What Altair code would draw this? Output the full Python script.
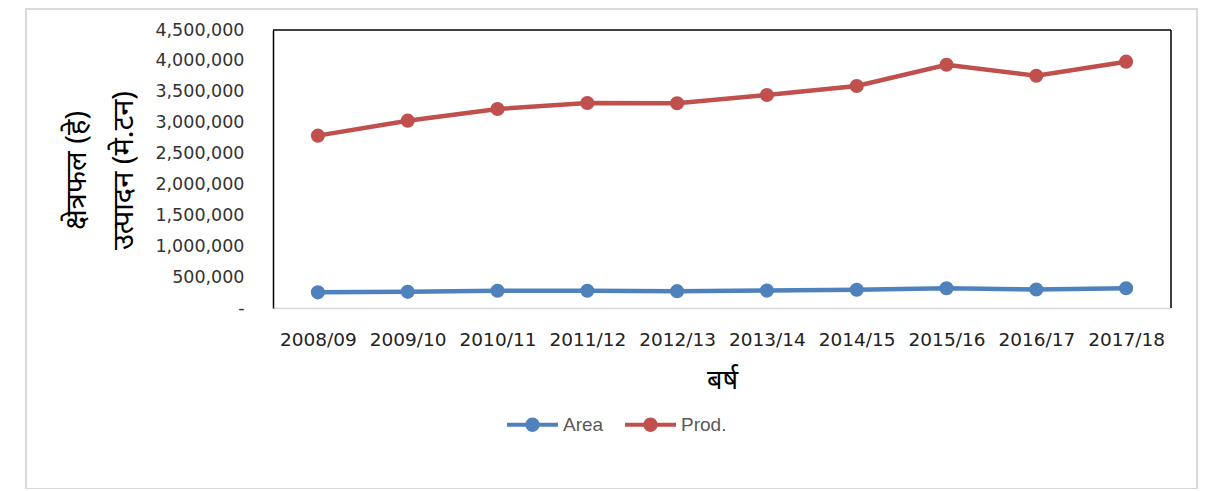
import altair as alt
import pandas as pd

years = ["2008/09", "2009/10", "2010/11", "2011/12", "2012/13",
         "2013/14", "2014/15", "2015/16", "2016/17", "2017/18"]
area = [254000, 262000, 280000, 280000, 272000, 282000, 296000, 319000, 300000, 319000]
prod = [2790000, 3032000, 3221000, 3318000, 3315000, 3448000, 3593000, 3938000, 3760000, 3987000]
series = ["Area", "Prod."]
colors = ["#4f81bd", "#c0504d"]
y_ticks = [0, 500000, 1000000, 1500000, 2000000, 2500000, 3000000, 3500000, 4000000, 4500000]

rows = []
for y, a, p in zip(years, area, prod):
    rows.append({"year": y, "series": "Area", "value": a})
    rows.append({"year": y, "series": "Prod.", "value": p})
df = pd.DataFrame(rows)

W, H = 898, 278

x_enc = alt.X(
    "year:N", sort=years,
    scale=alt.Scale(type="point", padding=0.5),
    axis=alt.Axis(
        title="बर्ष", labelAngle=0, ticks=False, grid=False,
        domainColor="#d9d9d9", domainWidth=1.5,
        labelFont="DejaVu Sans", labelFontSize=18.5, labelColor="#222222",
        labelPadding=22,
        titleFont="Noto Sans", titleFontSize=27, titleFontWeight="normal",
        titleColor="#000000", titleBaseline="middle", titleY=72,
    ),
)
y_enc = alt.Y(
    "value:Q",
    scale=alt.Scale(domain=[0, 4500000], nice=False),
    axis=alt.Axis(
        title=["क्षेत्रफल (हे)", "उत्पादन (मे.टन)"],
        values=y_ticks, ticks=False, grid=False,
        domainColor="#000000", domainWidth=1.5,
        labelExpr="datum.value == 0 ? '-\u00a0\u00a0' : format(datum.value, ',')",
        labelFont="DejaVu Sans", labelFontSize=17.5, labelColor="#333333",
        labelPadding=29,
        titleFont="Noto Sans", titleFontSize=29, titleFontWeight="normal",
        titleColor="#000000", titleAngle=270, titleAlign="center",
        titleBaseline="middle", titleLineHeight=47,
        titleX=-197, titleY=140,
    ),
)
color_scale = alt.Scale(domain=series, range=colors)
legend = alt.Legend(
    title=None, orient="none", direction="horizontal",
    legendX=234, legendY=369, padding=0,
    symbolType="M-1,-0.08H1V0.08H-1Z M-0.28,0A0.28,0.28 0 1,1 0.28,0A0.28,0.28 0 1,1 -0.28,0Z",
    symbolSize=2601, symbolStrokeWidth=0, symbolOpacity=1,
    labelFont="Liberation Sans", labelFontSize=19, labelColor="#595959",
    labelOffset=5, columnPadding=21,
)
color_enc = alt.Color("series:N", scale=color_scale, legend=legend)

base = alt.Chart(df)
lines = base.mark_line(strokeWidth=4.5).encode(x=x_enc, y=y_enc, color=color_enc)
points = base.mark_point(filled=True, size=200, opacity=1).encode(
    x=x_enc, y=y_enc, color=color_enc)

one = pd.DataFrame({"k": [0]})
top_rule = alt.Chart(one).mark_rule(color="#000000", strokeWidth=1.5).encode(
    x=alt.value(0), x2=alt.value(W), y=alt.value(0))
right_rule = alt.Chart(one).mark_rule(color="#000000", strokeWidth=1.5).encode(
    x=alt.value(W), y=alt.value(0), y2=alt.value(H))
outer = alt.Chart(one).mark_rect(fillOpacity=0, stroke="#d9d9d9", strokeWidth=2).encode(
    x=alt.value(-247), x2=alt.value(924), y=alt.value(-21), y2=alt.value(459))

chart = alt.layer(outer, lines, points, top_rule, right_rule).properties(
    width=W, height=H,
    autosize=alt.AutoSizeParams(type="none"),
    padding={"left": 265, "top": 22, "right": 27, "bottom": 181},
    background="white",
).configure_view(stroke=None)

chart.save("out.html", embed_options={"renderer": "svg", "actions": False})
